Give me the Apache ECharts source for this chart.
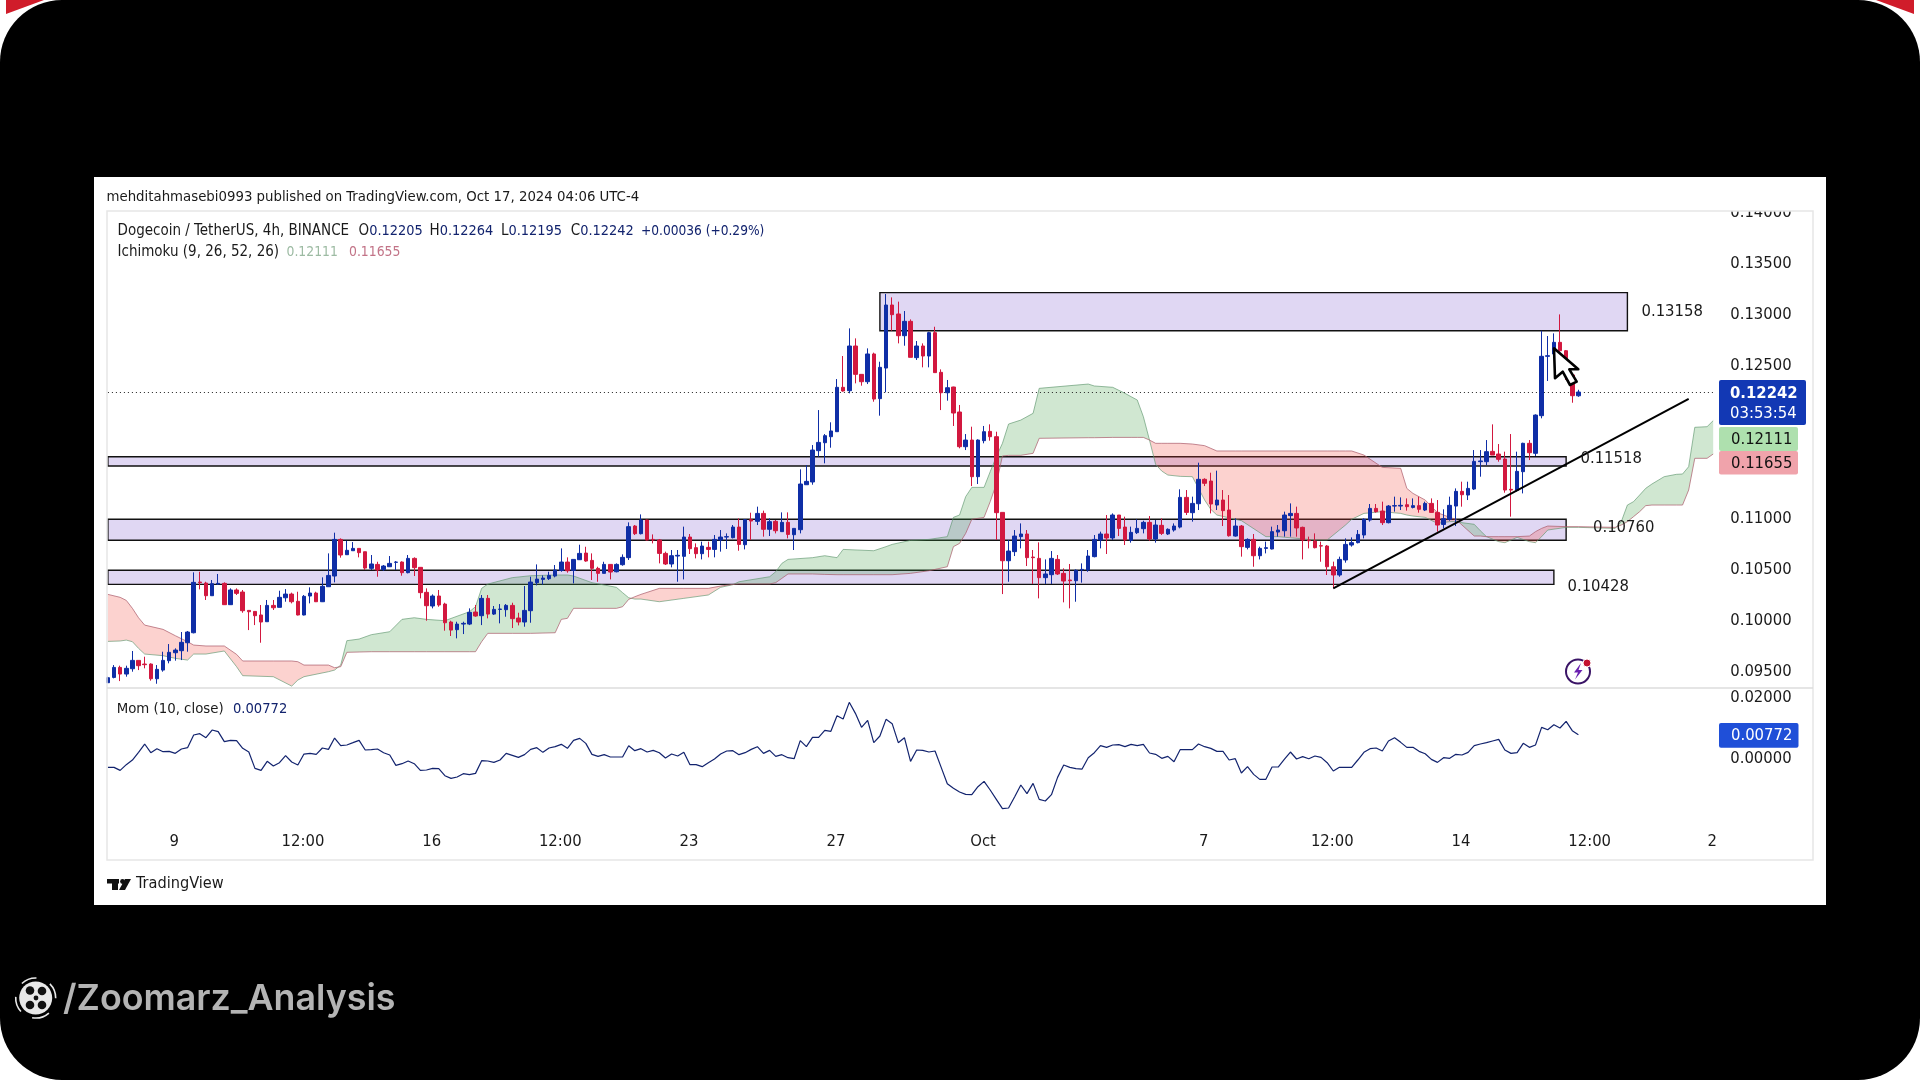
<!DOCTYPE html>
<html><head><meta charset="utf-8">
<style>html,body{margin:0;padding:0;background:#fff}#c{width:1920px;height:1080px}</style>
<script src="https://cdn.jsdelivr.net/npm/echarts@6/dist/echarts.min.js"></script>
</head><body><div id="c"></div>
<script>
// All prices below are in units of 0.00001 USDT. Rows are [open, high, low, close].
const ohlc = [
[9392,9451,9392,9441],[9444,9565,9435,9542],[9542,9559,9408,9477],[9477,9559,9451,9533],[9529,9703,9500,9611],
[9611,9611,9516,9559],[9575,9647,9533,9569],[9575,9582,9412,9431],[9431,9565,9382,9523],[9516,9696,9500,9611],
[9608,9771,9582,9690],[9686,9729,9608,9712],[9706,9889,9614,9788],[9784,9899,9696,9889],[9882,10474,9876,10376],
[10379,10480,10307,10373],[10369,10382,10203,10245],[10245,10399,10245,10363],[10359,10458,10350,10366],[10366,10376,10154,10157],
[10157,10317,10154,10301],[10301,10317,10252,10268],[10281,10301,10078,10098],[10101,10101,9908,10088],[10091,10091,9957,10049],
[10056,10154,9784,9987],[9990,10203,9990,10150],[10150,10203,10105,10127],[10131,10294,10131,10229],[10225,10310,10186,10261],
[10261,10275,10170,10186],[10190,10284,10052,10056],[10056,10252,10052,10239],[10242,10327,10170,10271],[10271,10284,10183,10186],
[10186,10425,10183,10337],[10333,10660,10333,10444],[10438,10863,10376,10797],[10797,10807,10618,10644],[10647,10784,10644,10690],
[10686,10771,10686,10709],[10709,10709,10621,10667],[10676,10676,10497,10516],[10513,10644,10497,10556],[10552,10578,10431,10497],
[10500,10546,10490,10536],[10529,10634,10529,10562],[10572,10585,10497,10575],[10575,10582,10441,10471],[10471,10644,10464,10611],
[10611,10621,10438,10520],[10523,10523,10219,10275],[10278,10317,10000,10147],[10144,10258,10121,10242],[10242,10301,10137,10154],
[10163,10176,9902,9980],[9987,10000,9850,9908],[9912,9990,9827,9967],[9967,9990,9869,9974],[9967,10121,9957,10082],
[10085,10154,10039,10046],[10049,10252,9957,10219],[10219,10252,10023,10065],[10065,10144,10056,10111],[10111,10163,9974,10114],
[10108,10163,10039,10150],[10150,10176,9928,10020],[10026,10078,9954,9987],[9987,10340,9941,10101],[10098,10431,9980,10379],
[10373,10552,10346,10408],[10405,10444,10353,10418],[10412,10480,10399,10444],[10438,10546,10425,10497],[10493,10709,10480,10575],
[10575,10621,10471,10490],[10493,10601,10366,10601],[10598,10745,10595,10660],[10663,10725,10578,10585],[10591,10660,10399,10513],
[10513,10529,10382,10464],[10464,10578,10464,10552],[10552,10552,10405,10477],[10480,10562,10474,10552],[10549,10650,10539,10621],
[10618,10964,10595,10922],[10928,10938,10840,10853],[10853,11042,10846,10987],[10987,10990,10788,10791],[10797,10846,10758,10791],
[10791,10801,10562,10660],
[10660,10677,10546,10556],[10556,10693,10523,10637],[10634,10693,10382,10641],[10631,10922,10405,10820],[10820,10850,10654,10706],
[10716,10758,10611,10657],[10657,10775,10601,10732],[10719,10775,10621,10699],[10699,10840,10621,10797],[10791,10889,10677,10820],
[10820,10856,10703,10824],[10814,10938,10807,10918],[10918,11003,10686,10748],[10745,10994,10699,10990],[10990,11059,10791,10977],
[10974,11118,10938,11052],[11052,11079,10824,10896],[10896,11003,10830,10971],[10974,10987,10856,10882],[10873,11062,10873,10964],
[10964,11062,10807,10846],[10843,10905,10693,10905],[10892,11484,10856,11340],[11333,11526,11333,11366],[11360,11722,11333,11673],
[11667,12065,11608,11748],[11745,11830,11543,11814],[11804,11945,11696,11860],[11853,12369,11853,12288],[12288,12595,12245,12252],
[12255,12866,12229,12693],[12693,12768,12327,12415],[12415,12415,12304,12343],[12343,12670,12320,12615],[12615,12628,12147,12173],
[12177,12539,12010,12484],[12477,13203,12239,13095],[13095,13170,12843,13000],[13007,13128,12719,12794],[12794,13036,12696,12935],
[12935,12954,12582,12582],[12579,12742,12556,12693],[12693,12719,12484,12595],[12595,12833,12484,12824],[12824,12882,12432,12432],
[12435,12464,12065,12235],[12235,12360,12157,12284],[12291,12294,11909,12036],[12046,12115,11690,11706],[11706,11830,11673,11771],
[11771,11902,11320,11412],[11412,11778,11340,11771],[11765,11909,11739,11853],[11856,11925,11765,11804],[11804,11853,10791,11059],
[11062,11062,10261,10588],[10588,10791,10382,10683],[10677,10889,10634,10830],[10824,10954,10709,10850],[10850,10889,10536,10618],
[10624,10693,10360,10618],[10611,10768,10219,10422],[10422,10601,10360,10458],[10451,10683,10360,10611],[10601,10644,10448,10458],
[10464,10513,10180,10389],[10399,10556,10121,10392],[10392,10503,10186,10494],[10497,10562,10373,10503],[10497,10693,10480,10634],
[10628,10840,10621,10797],[10791,10873,10709,10850],[10850,11036,10654,10811],[10811,11052,10791,11036],[11036,11036,10830,10905],
[10918,11020,10742,10791],[10788,10922,10765,10866],[10863,10994,10850,10905],
[10902,10980,10856,10964],[10964,11026,10784,10801],[10801,10987,10765,10938],[10935,11003,10840,10856],[10850,10905,10840,10896],
[10889,10954,10873,10928],[10918,11288,10905,11209],[11209,11281,11036,11062],[11059,11216,10971,11150],[11147,11549,11085,11386],
[11386,11396,11320,11347],[11369,11451,11052,11144],[11134,11471,11085,11183],[11183,11281,10928,11079],[11085,11232,10824,10833],
[10830,11003,10824,10928],[10928,10938,10628,10726],[10719,10807,10699,10797],[10797,10850,10529,10637],[10637,10726,10601,10709],
[10709,10775,10660,10716],[10703,10922,10699,10873],[10869,10938,10824,10889],[10882,11069,10824,11036],[11030,11150,10824,11052],
[11052,11118,10824,10909],[10915,10922,10601,10791],[10791,10824,10709,10784],[10781,10856,10709,10716],[10735,10775,10578,10732],
[10732,10742,10448,10529],[10529,10579,10317,10448],[10448,10628,10431,10601],[10595,10807,10569,10748],[10742,10817,10726,10765],
[10765,10889,10758,10846],[10840,11003,10807,10994],[10987,11144,10971,11101],[11101,11144,11059,11069],[11075,11167,10938,10961],
[10961,11134,10954,11124],[11124,11216,11069,11128],[11124,11209,11085,11131],[11137,11199,11079,11118],[11111,11199,11101,11128],
[11128,11216,11059,11092],[11085,11167,11075,11150],[11150,11199,11059,11062],[11062,11183,10873,10938],[10944,11092,10905,11000],
[10994,11216,10980,11131],[11124,11297,10928,11268],[11268,11363,11118,11235],[11232,11363,11183,11297],[11291,11673,11281,11562],
[11559,11673,11412,11566],[11559,11771,11526,11657],[11660,11925,11624,11624],[11634,11732,11559,11582],[11585,11657,11255,11281],
[11288,11830,11020,11281],[11278,11657,11265,11464],[11461,11745,11248,11739],[11739,11771,11575,11647],[11641,12023,11615,12016],
[12010,12843,11984,12592],[12592,12791,12350,12598],[12615,12817,12605,12729],[12729,13003,12637,12647],[12647,12654,12360,12409],
[12409,12420,12137,12206],[12205,12264,12195,12242]
];
// Momentum (10, close), one value per bar, units of 0.00001
const momentum = [
-297,-297,-395,-209,-56,195,468,184,315,217,228,162,304,348,763,807,676,927,873,545,589,578,326,206,-330,-395,-100,-253,-144,86,-122,-220,140,162,130,337,293,665,414,436,512,589,272,283,304,184,108,-231,-177,-89,-177,-395,-384,-330,-341,-570,-657,-614,-504,-537,-494,-78,-89,-133,-56,162,97,31,119,293,348,195,337,381,457,326,589,654,490,129,64,
119,42,42,42,414,250,315,206,261,184,9,140,75,195,-209,-209,-275,-144,-23,140,239,250,119,184,293,381,162,261,64,119,20,-13,578,381,687,687,916,884,1397,1288,1835,1474,1015,1244,512,731,1277,1135,512,676,-100,272,261,206,239,-297,-832,-985,-1106,-1182,-1193,-931,-756,-1040,-1346,-1652,-1630,-1259,-876,-1160,-821,-1346,-1401,-1193,-625,-220,-297,-341,-352,20,184,
414,359,436,447,381,457,414,457,173,130,-2,64,-111,283,283,283,468,381,326,228,228,-56,-13,-483,-275,-526,-690,-690,-286,-286,-34,206,-23,53,-13,75,31,-144,-417,-297,-297,-297,-56,195,315,337,239,567,676,523,359,359,228,151,-34,-133,20,-2,130,108,195,414,468,512,567,621,272,162,184,490,359,436,1015,938,1102,993,1212,906,772
];
// Ichimoku cloud, read at the bars where its edges change direction
const cloudBars = [0,2,3,4,5,6,9,11,13,14,16,19,21,22,27,30,31,32,36,37,38,39,41,43,46,48,50,52,55,59,60,61,62,66,69,73,74,75,76,79,83,84,85,86,87,90,94,98,100,102,103,108,109,110,111,115,117,119,120,125,127,128,131,134,137,138,139,140,141,143,144,145,146,147,149,151,152,160,161,164,166,167,168,169,170,171,172,173,175,177,179,180,181,184,185,189,191,197,199,201,202,203,205,208,211,212,213,215,217,219,220,221,223,224,225,227,228,230,232,233,234,235,238,240,246,247,248,249,250,251,252,254,256,257,258,259,261,262];
const spanA = [9797,9801,9810,9794,9729,9673,9657,9631,9614,9673,9673,9703,9549,9461,9451,9359,9418,9451,9500,9516,9565,9804,9820,9863,9892,10013,10029,10013,10000,10088,10137,10317,10359,10422,10441,10448,10448,10448,10438,10373,10327,10275,10225,10212,10212,10186,10219,10252,10327,10353,10382,10431,10480,10562,10601,10618,10637,10618,10699,10686,10726,10748,10788,10797,10824,11013,11036,11216,11307,11307,11461,11608,11739,11928,11967,12033,12278,12320,12301,12288,12229,12196,12164,12000,11771,11533,11467,11428,11415,11412,11183,11092,11036,10994,10981,10824,10824,10791,10791,10889,10938,10994,11052,11069,11052,11036,11026,11013,10954,10971,10974,10961,10945,10882,10824,10775,10765,10817,10775,10765,10824,10889,10915,10915,10905,10971,11134,11167,11232,11298,11340,11412,11435,11438,11510,11896,11902,11961];
const spanB = [10258,10229,10199,10121,10029,9957,9915,9853,9794,9761,9752,9752,9670,9605,9605,9605,9598,9565,9565,9539,9549,9690,9693,9696,9696,9696,9696,9696,9696,9696,9696,9794,9876,9876,9876,9882,10013,10023,10121,10121,10121,10137,10209,10235,10258,10317,10317,10317,10340,10356,10360,10360,10373,10415,10458,10458,10454,10451,10451,10451,10451,10451,10464,10490,10529,10726,10758,10856,10994,11013,11167,11340,11615,11621,11621,11641,11788,11794,11794,11797,11797,11797,11797,11797,11771,11739,11739,11739,11739,11732,11716,11690,11664,11664,11664,11664,11664,11664,11664,11664,11664,11664,11624,11503,11494,11297,11248,11183,11059,11013,10994,10938,10830,10830,10824,10824,10824,10824,10830,10873,10905,10928,10922,10922,10915,10938,10971,11020,11069,11128,11134,11134,11134,11134,11281,11592,11592,11634];
// Drawn zones and trend line
const zoneStart = [126,0,0,0];
const zoneEnd = [248,238,238,236];
const zoneTop = [13216,11608,10994,10494];
const zoneBottom = [12843,11516,10788,10356];
const trendBars = [200,258];
const trendPrices = [10317,12174];
const lastPrice = 12242;
// Axes
const barSlots = 263;
const tickBars = [11,32,53,74,95,119,143,179,200,221,242,262];
const tickLabels = ['9','12:00','16','12:00','23','27','Oct','7','12:00','14','12:00','2'];
const UNIT = 1e-5;

const FONT = '"DejaVu Sans Condensed","DejaVu Sans",sans-serif';
const BLUE = '#0f2ea6', RED = '#d2183f', NAVY = '#12236e', INK = '#1a1a1a';
const W = 6.127, LEFT = 104.84;
const categories = Array.from({length: barSlots}, (_, i) => String(i));
const price = v => +(v * UNIT).toFixed(5);

const runs = [];
for (let k = 0; k < cloudBars.length - 1; k++) {
  const up = spanA[k] + spanA[k + 1] >= spanB[k] + spanB[k + 1];
  const last = runs[runs.length - 1];
  if (last && last.up === up) last.end = k + 1; else runs.push({start: k, end: k + 1, up});
}
const cloudRows = runs.map(r => [cloudBars[r.start], cloudBars[r.end], price(spanA[r.start]), price(spanB[r.start])]);
function renderCloud(params, api) {
  const r = runs[params.dataIndex], pts = [];
  for (let k = r.start; k <= r.end; k++) pts.push(api.coord([cloudBars[k], price(spanA[k])]));
  for (let k = r.end; k >= r.start; k--) pts.push(api.coord([cloudBars[k], price(spanB[k])]));
  return {type: 'polygon', shape: {points: pts}, style: {fill: r.up ? 'rgba(67,160,71,0.25)' : 'rgba(244,67,54,0.24)'}};
}
function renderZone(params, api) {
  const a = api.coord([api.value(0), api.value(2)]), b = api.coord([api.value(1), api.value(3)]);
  return {type: 'rect', shape: {x: a[0], y: a[1], width: b[0] - a[0], height: b[1] - a[1]},
    style: {fill: '#e0d7f3', stroke: '#111', lineWidth: 1.4}};
}

function tx(x, y, text, size, fill, weight) {
  return {type: 'text', z: 60, silent: true, style: {x, y: y + 0.8, text, fill,
    font: (weight ? weight + ' ' : '') + size + 'px ' + FONT, textVerticalAlign: 'middle', textAlign: 'left'}};
}
function box(x, y, w, h, fill, z, r) {
  return {type: 'rect', z: z === undefined ? 55 : z, silent: true, shape: {x, y, width: w, height: h, r: r || 0}, style: {fill}};
}
const graphics = [
  {type: 'polygon', z: -10, silent: true, shape: {points: [[6,0],[44,0],[6,14]]}, style: {fill: '#d01c2a'}},
  {type: 'polygon', z: -10, silent: true, shape: {points: [[1914,0],[1876,0],[1914,14]]}, style: {fill: '#d01c2a'}},
  box(0, 0, 1920, 1080, '#000', -9, 62),
  box(94, 177, 1732, 728, '#fff', -8),
  // clip the top tick label at the pane edge
  box(1722, 190, 90, 21, '#fff', 50),
  {type: 'rect', z: 52, silent: true, shape: {x: 107, y: 211, width: 1706, height: 649}, style: {fill: 'none', stroke: '#e6e6e6', lineWidth: 1.5}},
  {type: 'line', z: 52, silent: true, shape: {x1: 107, y1: 688, x2: 1813, y2: 688}, style: {stroke: '#dcdcdc', lineWidth: 1.5}},
  tx(106.5, 196.7, 'mehditahmasebi0993 published on TradingView.com, Oct 17, 2024 04:06 UTC-4', 14.8, INK),
  tx(117.5, 230.7, 'Dogecoin / TetherUS, 4h, BINANCE', 15, INK),
];
[[358.6,'O','0.12205'],[429.6,'H','0.12264'],[501,'L','0.12195'],[570.8,'C','0.12242']].forEach(([x, k, v]) => {
  graphics.push({type: 'text', z: 60, silent: true, style: {x, y: 231.5, text: '{k|' + k + '}{v|' + v + '}', textVerticalAlign: 'middle',
    rich: {k: {fill: INK, font: '15px ' + FONT}, v: {fill: NAVY, font: '14.4px ' + FONT}}}});
});
graphics.push(
  tx(641, 230.7, '+0.00036 (+0.29%)', 13.6, NAVY),
  tx(117.5, 251.7, 'Ichimoku (9, 26, 52, 26)', 15, INK),
  tx(286.5, 251.7, '0.12111', 13.8, '#9dbba3'),
  tx(349, 251.7, '0.11655', 13.8, '#c27387'),
  tx(116.7, 708.4, 'Mom (10, close)', 14.8, INK),
  tx(233, 708.4, '0.00772', 14.6, NAVY),
  tx(136, 883, 'TradingView', 16.2, INK),
  // zone labels
  tx(1641.5, 310.7, '0.13158', 16.5, INK),
  tx(1580.5, 458, '0.11518', 16.5, INK),
  tx(1593, 526.7, '0.10760', 16.5, INK),
  tx(1567.5, 585.7, '0.10428', 16.5, INK),
  // price tags
  box(1719, 380, 87, 45, '#1238b4', 55, 2),
  tx(1730, 393, '0.12242', 16.5, '#fff', 'bold'),
  tx(1730, 412.5, '03:53:54', 16.5, '#fff'),
  box(1719, 427, 79, 24, '#aee0ae', 55, 2),
  tx(1731, 439, '0.12111', 16.5, '#111'),
  box(1719, 451, 79, 23.5, '#f0a3ab', 55, 2),
  tx(1731, 462.7, '0.11655', 16.5, '#111'),
  box(1719, 723, 79.5, 24.7, '#1f4fd8', 55, 2),
  tx(1731, 735.3, '0.00772', 16.5, '#fff'),
  // cursor
  {type: 'polygon', z: 70, silent: true, shape: {points: [[1554,348.3],[1555,378.3],[1562.7,371.7],[1570,385],[1576.7,381.7],[1569.3,369.3],[1578.3,369.3]]},
    style: {fill: '#fff', stroke: '#000', lineWidth: 2.6, lineJoin: 'round'}},
  // replay icon
  {type: 'circle', z: 60, silent: true, shape: {cx: 1578, cy: 671.5, r: 12}, style: {fill: 'none', stroke: '#3a1466', lineWidth: 2}},
  {type: 'polygon', z: 61, silent: true, shape: {points: [[1581,663],[1574,672.5],[1578,672.5],[1575,679.5],[1582.5,670],[1578.5,670]]}, style: {fill: '#6a1fb0'}},
  {type: 'circle', z: 62, silent: true, shape: {cx: 1587, cy: 663, r: 4}, style: {fill: '#c4122f', stroke: '#fff', lineWidth: 1}},
  // TradingView mark
  box(107, 879, 12, 4.5, '#111', 60),
  box(112, 879, 6, 11, '#111', 60),
  {type: 'circle', z: 60, silent: true, shape: {cx: 122.5, cy: 881.5, r: 2.4}, style: {fill: '#111'}},
  {type: 'polygon', z: 60, silent: true, shape: {points: [[125,879],[131,879],[125,890],[119,890]]}, style: {fill: '#111'}},
  // watermark
  {type: 'text', z: 60, silent: true, style: {x: 63, y: 999.5, text: '/Zoomarz_Analysis', fill: '#b4b4b4', font: '600 35.8px Inter,"Liberation Sans",Arial,sans-serif', textVerticalAlign: 'middle'}},
  {type: 'circle', z: 60, silent: true, shape: {cx: 35.7, cy: 998, r: 16.5}, style: {fill: '#e8e8e8'}}
);
[[30,990.5],[42,991],[30,1005],[42,1005]].forEach(([cx, cy]) => graphics.push({type: 'circle', z: 61, silent: true, shape: {cx, cy, r: 4.3}, style: {fill: '#111'}}));
graphics.push({type: 'circle', z: 61, silent: true, shape: {cx: 36, cy: 998, r: 2.4}, style: {fill: '#111'}});
[[0.85,1.75],[2.4,3.2],[3.95,4.75],[5.5,6.3]].forEach(([a, b]) => graphics.push({type: 'arc', z: 60, silent: true,
  shape: {cx: 35.7, cy: 998, r: 20, startAngle: a, endAngle: b}, style: {stroke: '#e8e8e8', lineWidth: 1.6, fill: 'none'}}));

const chart = echarts.init(document.getElementById('c'), null, {renderer: 'canvas', width: 1920, height: 1080});
chart.setOption({
  animation: false,
  backgroundColor: '#fff',
  graphic: {elements: graphics},
  grid: [
    {left: LEFT, top: 212.7, width: W * barSlots, height: 510, containLabel: false},
    {left: LEFT, top: 697.3, width: W * barSlots, height: 122, containLabel: false}
  ],
  xAxis: [
    {type: 'category', gridIndex: 0, data: categories, show: false, boundaryGap: true},
    {type: 'category', gridIndex: 1, data: categories, boundaryGap: true,
      axisLine: {show: false}, axisTick: {show: false}, splitLine: {show: false},
      axisLabel: {margin: 14, fontSize: 16.5, fontFamily: FONT, color: INK, hideOverlap: false, padding: [0, 2, 0, 0],
        interval: i => tickBars.includes(i), formatter: (v, i) => { const k = tickBars.indexOf(+v); return k < 0 ? '' : tickLabels[k]; }}}
  ],
  yAxis: [
    {type: 'value', gridIndex: 0, position: 'right', min: 0.09, max: 0.14, interval: 0.005, scale: true,
      axisLine: {show: false}, axisTick: {show: false}, splitLine: {show: false},
      axisLabel: {margin: 14, align: 'left', fontSize: 16.5, fontFamily: FONT, color: INK, padding: [5, 0, 0, 0],
        showMinLabel: false, formatter: v => v.toFixed(5)}},
    {type: 'value', gridIndex: 1, position: 'right', min: -0.02, max: 0.02, interval: 0.02,
      axisLine: {show: false}, axisTick: {show: false}, splitLine: {show: false},
      axisLabel: {margin: 14, align: 'left', fontSize: 16.5, fontFamily: FONT, color: INK, padding: [5, 0, 0, 0],
        formatter: v => v < -0.001 ? '' : Math.abs(v).toFixed(5)}}
  ],
  series: [
    {type: 'custom', name: 'Zones', xAxisIndex: 0, yAxisIndex: 0, z: 1, silent: true, clip: true, renderItem: renderZone,
      encode: {x: [0, 1], y: [2, 3]},
      data: zoneStart.map((s, i) => [s, zoneEnd[i], price(zoneTop[i]), price(zoneBottom[i])])},
    {type: 'custom', name: 'Cloud', xAxisIndex: 0, yAxisIndex: 0, z: 2, silent: true, clip: true, renderItem: renderCloud,
      encode: {x: [0, 1], y: [2, 3]}, data: cloudRows},
    {type: 'line', name: 'Span A', xAxisIndex: 0, yAxisIndex: 0, z: 3, silent: true, symbol: 'none',
      lineStyle: {color: 'rgba(95,150,110,0.65)', width: 1}, data: cloudBars.map((b, i) => [b, price(spanA[i])])},
    {type: 'line', name: 'Span B', xAxisIndex: 0, yAxisIndex: 0, z: 3, silent: true, symbol: 'none',
      lineStyle: {color: 'rgba(170,90,105,0.7)', width: 1}, data: cloudBars.map((b, i) => [b, price(spanB[i])])},
    {type: 'candlestick', name: 'DOGEUSDT', xAxisIndex: 0, yAxisIndex: 0, z: 5, silent: true, barWidth: 4,
      itemStyle: {color: BLUE, color0: RED, borderColor: BLUE, borderColor0: RED, borderWidth: 1},
      data: ohlc.map(r => [price(r[0]), price(r[3]), price(r[2]), price(r[1])]),
      markLine: {silent: true, symbol: 'none', label: {show: false}, animation: false, precision: 5,
        lineStyle: {type: [1, 3], color: '#222', width: 1},
        data: [[{coord: [0, price(lastPrice)]}, {coord: [barSlots - 1, price(lastPrice)]}]]}},
    {type: 'line', name: 'Trend', xAxisIndex: 0, yAxisIndex: 0, z: 6, silent: true, symbol: 'none',
      lineStyle: {color: '#000', width: 2}, data: trendBars.map((b, i) => [b, price(trendPrices[i])])},
    {type: 'line', name: 'Mom', xAxisIndex: 1, yAxisIndex: 1, z: 4, silent: true, symbol: 'none',
      lineStyle: {color: NAVY, width: 1.2}, data: momentum.map(v => price(v))}
  ]
});
</script></body></html>
